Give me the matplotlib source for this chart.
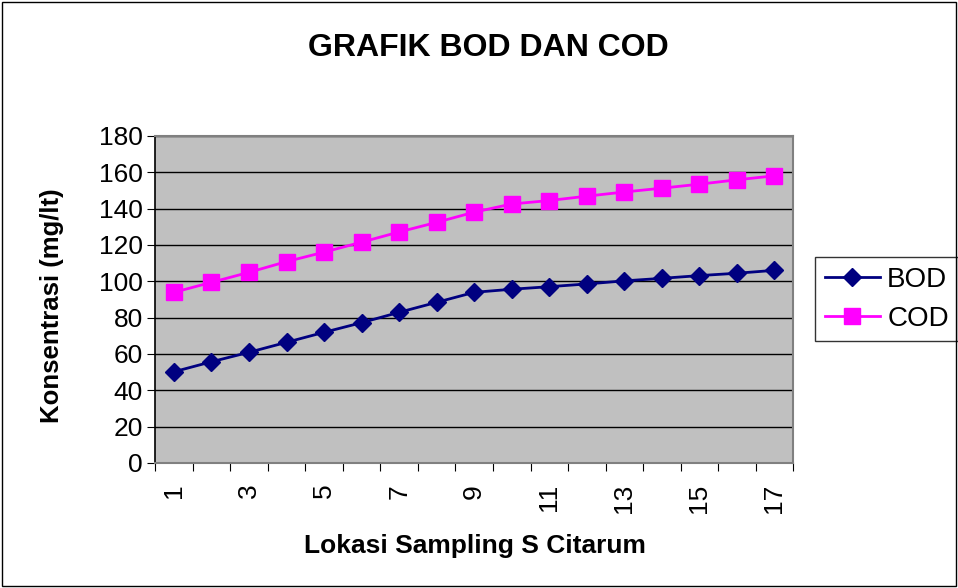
import numpy as np
import matplotlib.pyplot as plt
from matplotlib.patches import Rectangle

plt.rcParams['font.family'] = ['Liberation Sans', 'DejaVu Sans']

# Sampling locations along S. Citarum
lokasi = list(range(1, 18))
bod = [50.2, 55.7, 60.9, 66.4, 71.9, 77.2, 82.9, 88.4, 93.9,
       95.6, 97.0, 98.5, 100.2, 101.6, 103.1, 104.4, 106.0]
cod = [93.9, 99.4, 104.9, 110.8, 116.0, 121.5, 127.1, 132.4, 138.0,
       142.5, 144.4, 146.8, 149.1, 151.2, 153.4, 155.8, 158.0]
y_ticks = list(range(0, 181, 20))

fig = plt.figure(figsize=(9.58, 5.88), dpi=100)
ax = fig.add_axes([0.162, 0.2126, 0.666, 0.5564])

x = np.arange(len(lokasi))
ax.plot(x, bod, color='#000080', marker='D', markersize=9, linewidth=2, label='BOD')
ax.plot(x, cod, color='#FF00FF', marker='s', markersize=11, linewidth=2, label='COD')

ax.set_facecolor('#C0C0C0')
ax.set_xlim(-0.5, len(lokasi) - 0.5)
ax.set_ylim(0, 180)
ax.set_yticks(y_ticks)
ax.yaxis.grid(True, color='black', linewidth=1)
ax.set_axisbelow(True)

# ticks between categories, labels on odd locations
ax.set_xticks(np.arange(-0.5, len(lokasi)), minor=False)
ax.set_xticklabels([])
ax.set_xticks(x, minor=True)
ax.set_xticklabels([str(v) if v % 2 == 1 else '' for v in lokasi],
                   minor=True, rotation=90, fontsize=19)
ax.tick_params(axis='x', which='minor', length=0, pad=15)
ax.tick_params(axis='x', which='major', length=6, direction='out')
ax.tick_params(axis='y', labelsize=19, length=6, pad=3)
for lbl in ax.get_xticklabels(minor=True):
    lbl.set_verticalalignment('top')

for side in ['top', 'right', 'bottom']:
    ax.spines[side].set_color('#808080')
    ax.spines[side].set_linewidth(1.5)
ax.spines['left'].set_color('black')
ax.spines['left'].set_linewidth(1.2)

fig.text(0.496, 0.0714, 'Lokasi Sampling S Citarum', ha='center', va='center',
         fontsize=19, fontweight='bold')
fig.text(0.054, 0.48, 'Konsentrasi (mg/lt)', ha='center', va='center',
         rotation=90, fontsize=18.5, fontweight='bold')
fig.text(0.51, 0.918, 'GRAFIK BOD DAN COD', ha='center', va='center',
         fontsize=23, fontweight='bold')

leg = ax.legend(loc='center left', bbox_to_anchor=(1.034, 0.50), fontsize=20,
                frameon=True, fancybox=False, edgecolor='black',
                handlelength=2.0, borderpad=0.35, labelspacing=0.45,
                handletextpad=0.25, borderaxespad=0)
leg.get_frame().set_linewidth(1)

fig.patches.append(Rectangle((0.002, 0.003), 0.996, 0.994, transform=fig.transFigure,
                             fill=False, edgecolor='black', linewidth=1))

fig.savefig('out.png', dpi=100, facecolor='white')
